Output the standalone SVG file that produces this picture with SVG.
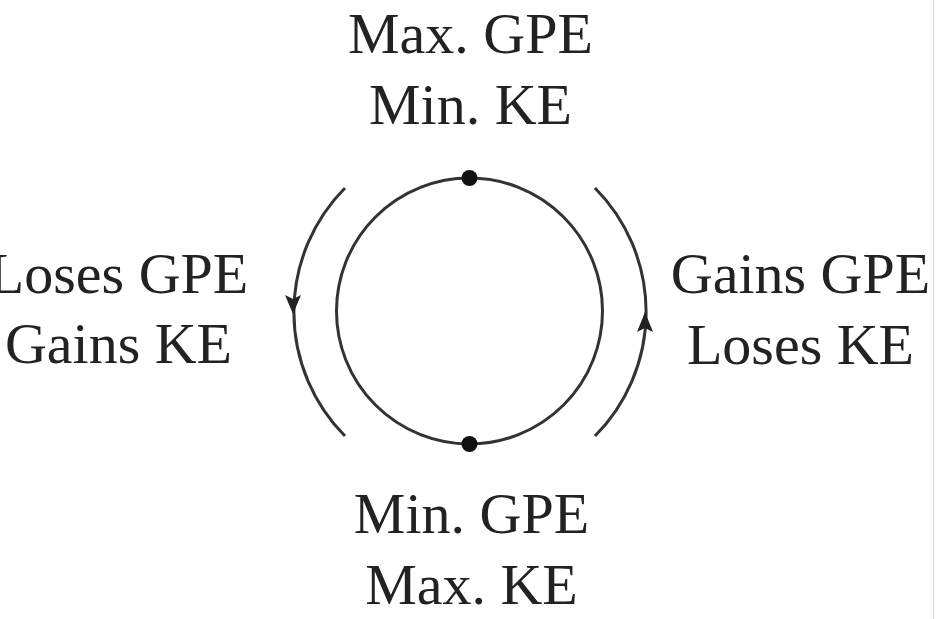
<svg xmlns="http://www.w3.org/2000/svg" width="950" height="619" viewBox="0 0 950 619">
<style>
.lbl{font-family:"Liberation Serif","Times New Roman",serif;font-size:58px;fill:#222;text-anchor:middle}
.ln{fill:none;stroke:#333;stroke-width:3}
.dot{fill:#111}
.ah{fill:#222}
</style>
<rect x="0" y="0" width="950" height="619" fill="#fff"/>
<line x1="933.5" y1="0" x2="933.5" y2="619" stroke="#ddd" stroke-width="1.5"/>
<g id="loop">
<circle class="ln" cx="469.5" cy="311" r="133"/>
</g>
<g id="top">
<circle class="dot" cx="469.5" cy="178" r="8"/>
<text class="lbl" x="470.5" y="53">Max. GPE</text>
<text class="lbl" x="470.5" y="124">Min. KE</text>
</g>
<g id="bottom">
<circle class="dot" cx="469.5" cy="444" r="8"/>
<text class="lbl" x="471.5" y="533">Min. GPE</text>
<text class="lbl" x="471.5" y="604">Max. KE</text>
</g>
<g id="left">
<text class="lbl" x="118.5" y="293">Loses GPE</text>
<text class="lbl" x="118.5" y="363">Gains KE</text>
</g>
<g id="right">
<text class="lbl" x="800.5" y="293">Gains GPE</text>
<text class="lbl" x="800.5" y="364">Loses KE</text>
</g>
<g id="connectors">
<path class="ln" d="M 345 188 A 176 176 0 0 0 345 436"/>
<polygon class="ah" points="293,314 285,295 293,299 301,295"/>
<path class="ln" d="M 595 188 A 176 176 0 0 1 595 436"/>
<polygon class="ah" points="645,312 637,332 645,328 653,332"/>
</g>
</svg>
